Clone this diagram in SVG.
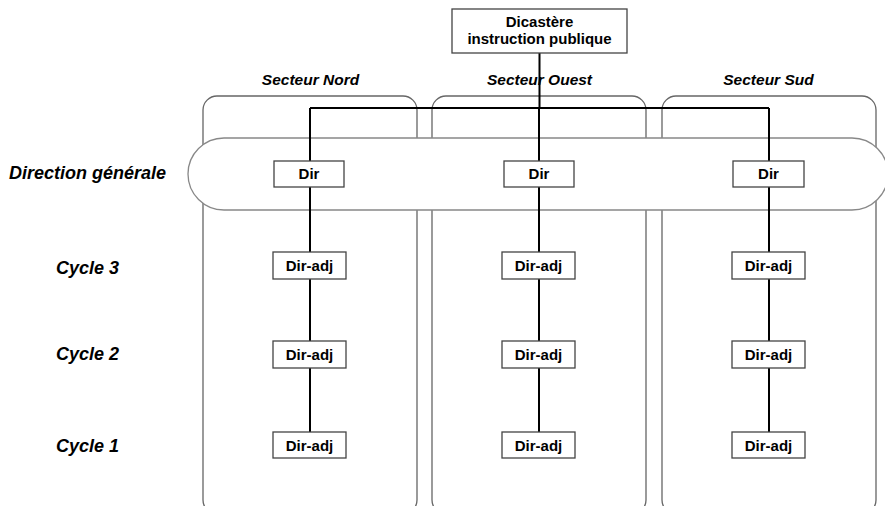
<svg xmlns="http://www.w3.org/2000/svg" width="885" height="506" viewBox="0 0 885 506">
<style>
.sector{fill:#fff;stroke:#666;stroke-width:1.3}
.band{fill:#fff;stroke:#888;stroke-width:1.3}
.box{fill:#fff;stroke:#444;stroke-width:1.3}
.t{font-family:"Liberation Sans",Arial,sans-serif;font-weight:bold;font-size:15px;fill:#000;text-anchor:middle}
.lab{font-family:"Liberation Sans",Arial,sans-serif;font-weight:bold;font-style:italic;fill:#000}
.con{stroke:#000;stroke-width:2;fill:none}
</style>
<rect width="885" height="506" fill="#fff"/>
<g id="sectors">
<rect id="secteur-nord" class="sector" x="203" y="96" width="214" height="418" rx="14"/>
<rect id="secteur-ouest" class="sector" x="432" y="96" width="214" height="418" rx="14"/>
<rect id="secteur-sud" class="sector" x="662" y="96" width="214" height="418" rx="14"/>
</g>
<g id="direction-band">
<rect class="band" x="188" y="138" width="700" height="72" rx="36"/>
</g>
<g id="labels">
<text class="lab" x="310.5" y="85" font-size="15.5" text-anchor="middle">Secteur Nord</text>
<text class="lab" x="539.5" y="85" font-size="15.5" text-anchor="middle">Secteur Ouest</text>
<text class="lab" x="768.5" y="85" font-size="15.5" text-anchor="middle">Secteur Sud</text>
<text class="lab" x="9" y="179" font-size="18">Direction générale</text>
<text class="lab" x="56" y="274" font-size="18">Cycle 3</text>
<text class="lab" x="56" y="360" font-size="18">Cycle 2</text>
<text class="lab" x="56" y="452" font-size="18">Cycle 1</text>
</g>
<g id="connectors">
<path class="con" d="M539.5 53V108M310 108H769M310 108V432M539 108V432M769 108V432"/>
</g>
<g id="dicastere">
<rect class="box" x="452" y="9" width="175" height="44"/>
<text class="t" x="539.5" y="27" font-size="15.5">Dicastère</text>
<text class="t" x="539.5" y="44" font-size="15.5">instruction publique</text>
</g>
<g id="dir-nord"><rect class="box" x="274" y="161" width="70" height="26"/><text class="t" x="309" y="179">Dir</text></g>
<g id="dir-ouest"><rect class="box" x="504" y="161" width="70" height="26"/><text class="t" x="539" y="179">Dir</text></g>
<g id="dir-sud"><rect class="box" x="733" y="161" width="71" height="26"/><text class="t" x="768.5" y="179">Dir</text></g>
<g id="c3-nord"><rect class="box" x="273" y="252" width="73" height="27"/><text class="t" x="309.5" y="271">Dir-adj</text></g>
<g id="c3-ouest"><rect class="box" x="502" y="252" width="73" height="27"/><text class="t" x="538.5" y="271">Dir-adj</text></g>
<g id="c3-sud"><rect class="box" x="732" y="252" width="73" height="27"/><text class="t" x="768.5" y="271">Dir-adj</text></g>
<g id="c2-nord"><rect class="box" x="273" y="341" width="73" height="27"/><text class="t" x="309.5" y="360">Dir-adj</text></g>
<g id="c2-ouest"><rect class="box" x="502" y="341" width="73" height="27"/><text class="t" x="538.5" y="360">Dir-adj</text></g>
<g id="c2-sud"><rect class="box" x="732" y="341" width="73" height="27"/><text class="t" x="768.5" y="360">Dir-adj</text></g>
<g id="c1-nord"><rect class="box" x="273" y="432" width="73" height="26"/><text class="t" x="309.5" y="450.5">Dir-adj</text></g>
<g id="c1-ouest"><rect class="box" x="502" y="432" width="73" height="26"/><text class="t" x="538.5" y="450.5">Dir-adj</text></g>
<g id="c1-sud"><rect class="box" x="732" y="432" width="73" height="26"/><text class="t" x="768.5" y="450.5">Dir-adj</text></g>
</svg>
